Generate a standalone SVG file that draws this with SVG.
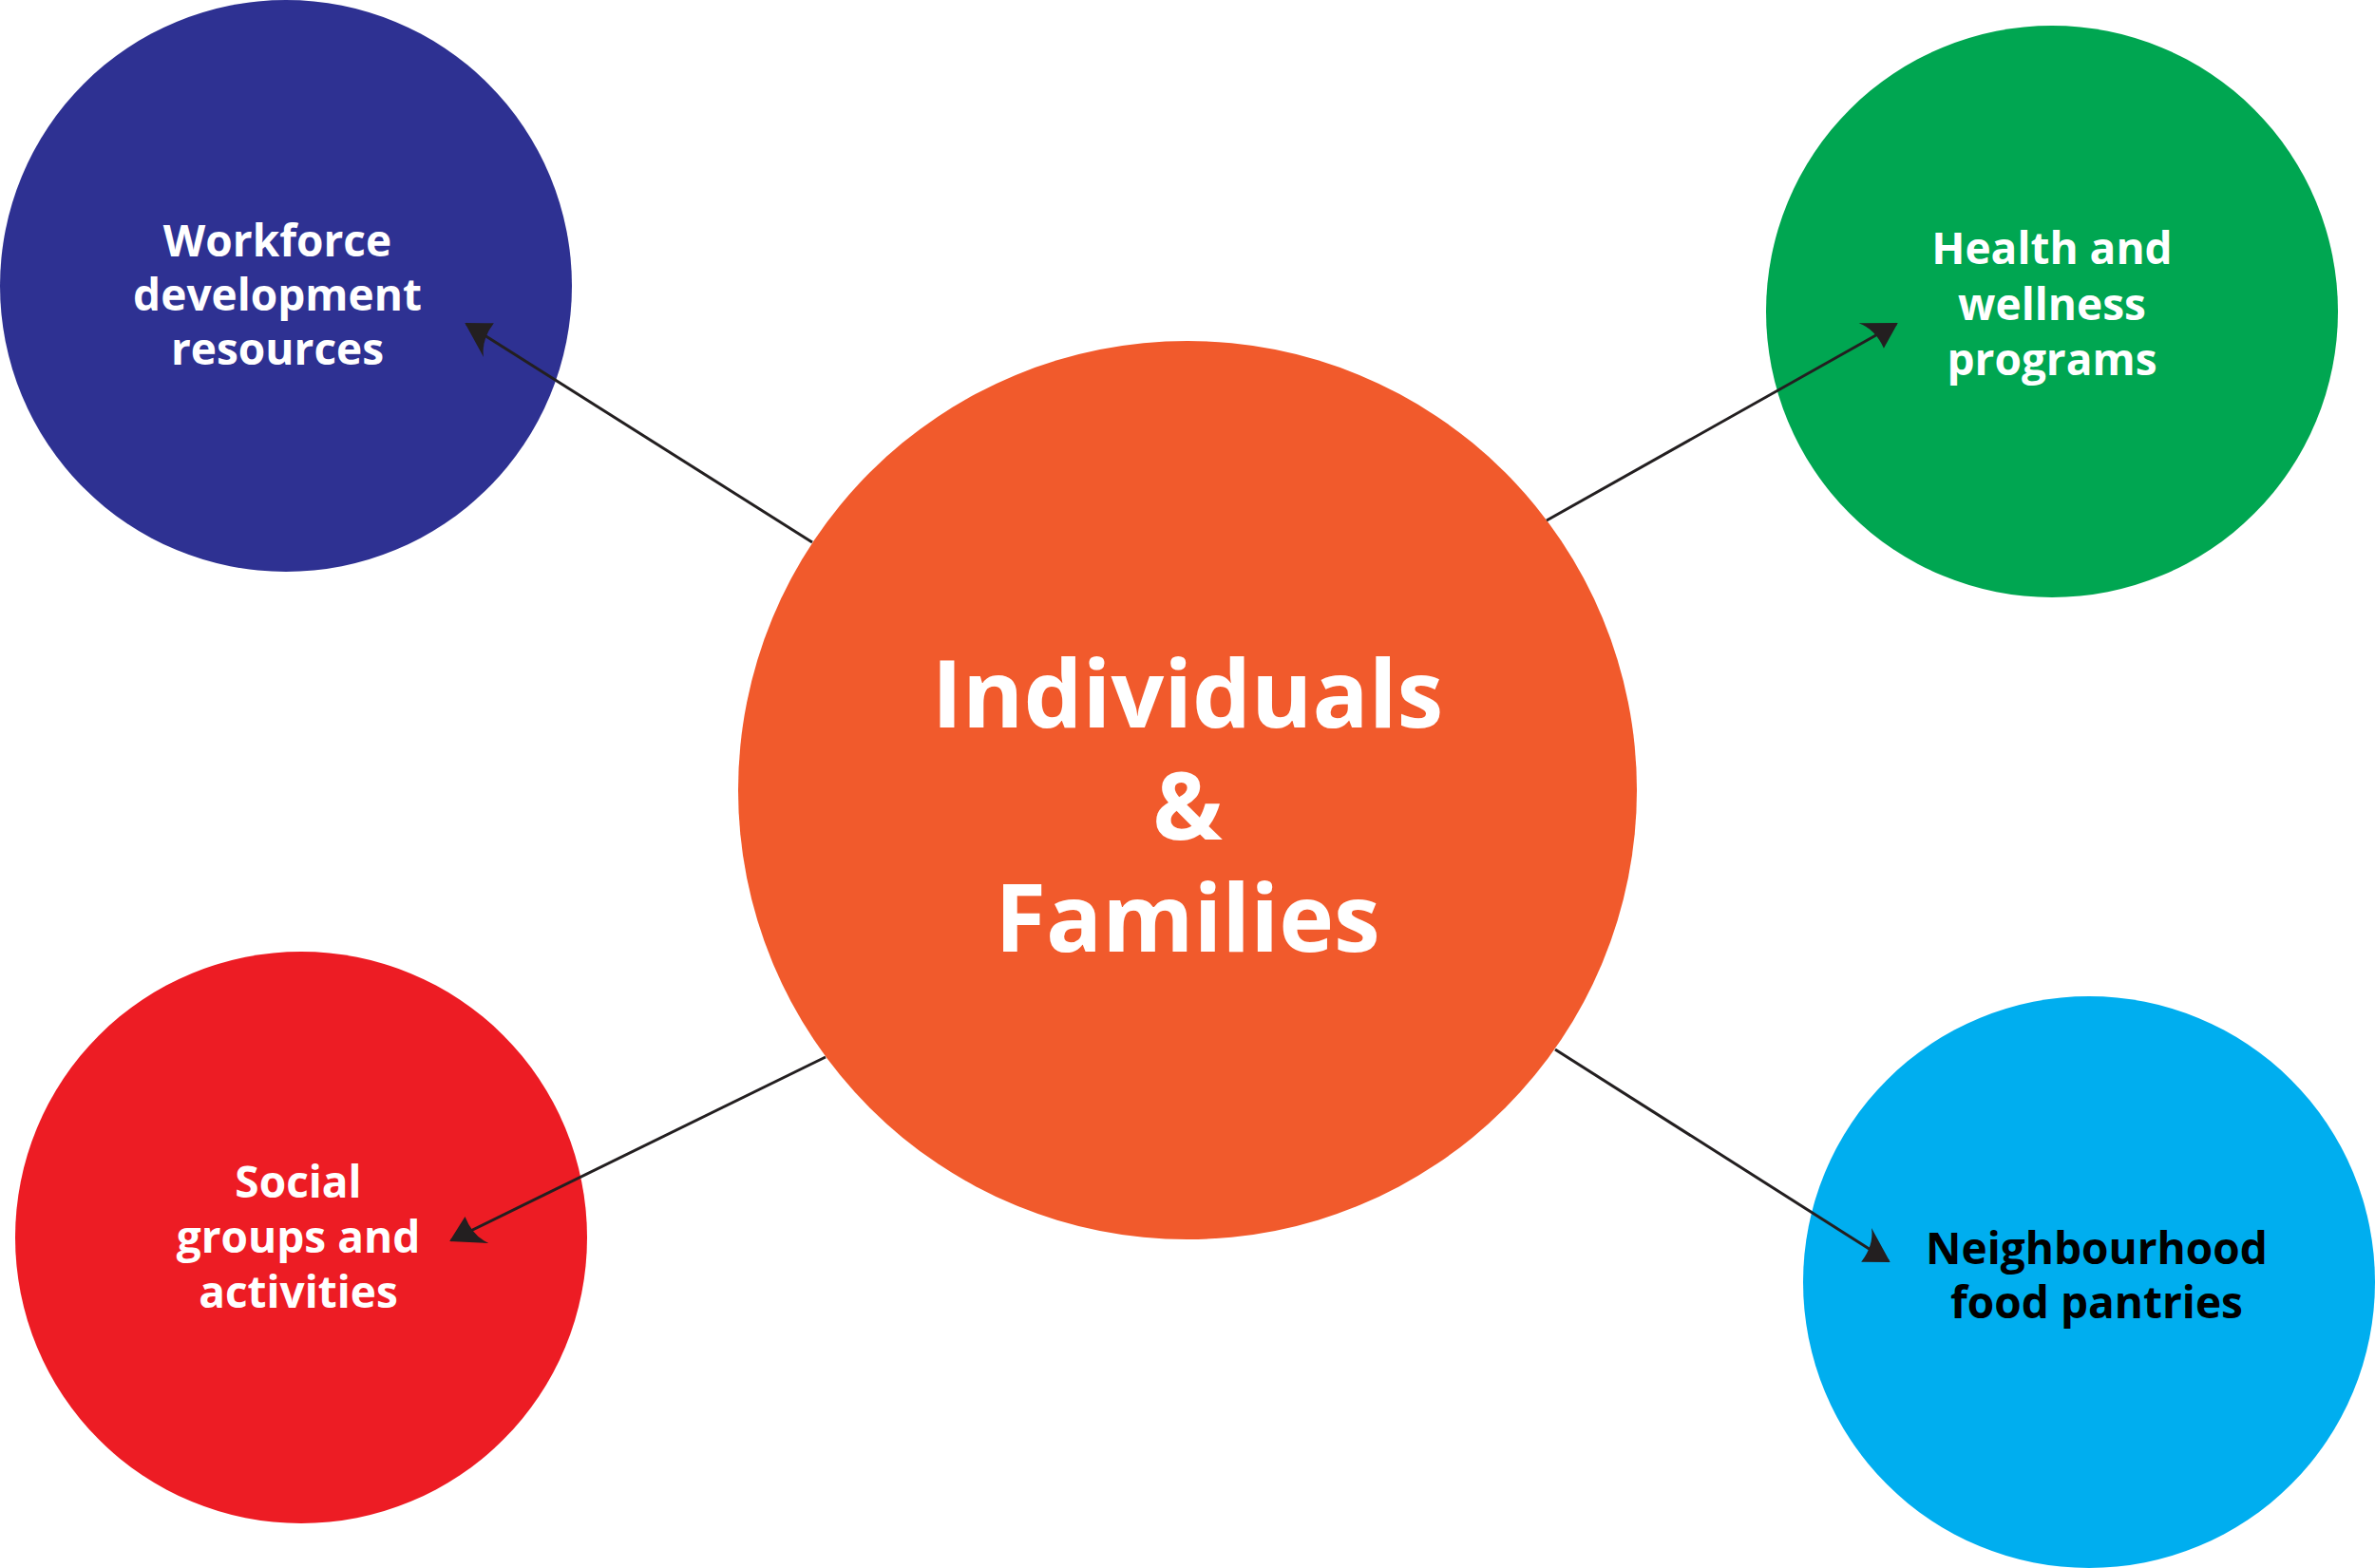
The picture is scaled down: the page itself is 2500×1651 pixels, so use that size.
<svg xmlns="http://www.w3.org/2000/svg" width="2500" height="1651" viewBox="0 0 2500 1651">
<style>
.lbl{font-family:"Open Sans","Liberation Sans",sans-serif;font-weight:700;font-size:46px;fill:#fff;text-anchor:middle}
.big{font-family:"Open Sans","Liberation Sans",sans-serif;font-weight:700;font-size:98px;fill:#fff;text-anchor:middle}
.con{stroke:#231f20;stroke-width:3;fill:none;marker-end:url(#ah)}
</style>
<defs>
<marker id="ah" markerWidth="40" markerHeight="40" refX="0" refY="0" markerUnits="userSpaceOnUse" orient="auto" style="overflow:visible">
<path d="M2,0 L-34,-20 Q-22,-6 -24,16 Z" fill="#231f20"/>
</marker>
</defs>
<rect width="2500" height="1651" fill="#fff"/>
<g id="workforce"><circle cx="301" cy="301" r="301" fill="#2e3192"/>
<text class="lbl" x="292" y="270">Workforce</text><text class="lbl" x="292" y="327">development</text><text class="lbl" x="292" y="384">resources</text></g>
<g id="health"><circle cx="2160" cy="328" r="301" fill="#00a651"/>
<text class="lbl" x="2160" y="278">Health and</text><text class="lbl" x="2160" y="337">wellness</text><text class="lbl" x="2160" y="395">programs</text></g>
<g id="social"><circle cx="317" cy="1303" r="301" fill="#ed1c24"/>
<text class="lbl" x="314" y="1261">Social</text><text class="lbl" x="314" y="1319">groups and</text><text class="lbl" x="314" y="1377">activities</text></g>
<g id="food"><circle cx="2199" cy="1350" r="301" fill="#00aeef"/>
<text class="lbl" x="2207" y="1331" style="fill:#000">Neighbourhood</text><text class="lbl" x="2207" y="1388" style="fill:#000">food pantries</text></g>
<g id="center"><circle cx="1250" cy="832" r="473" fill="#f15a2c"/>
<text class="big" x="1250" y="766">Individuals</text><text class="big" x="1250" y="884">&amp;</text><text class="big" x="1250" y="1002">Families</text></g>
<g id="connectors">
<line class="con" x1="855" y1="571" x2="491" y2="341"/>
<line class="con" x1="1628" y1="548" x2="1996" y2="341"/>
<line class="con" x1="869" y1="1113" x2="475" y2="1306"/>
<line class="con" x1="1637" y1="1105" x2="1988" y2="1328"/>
</g>
</svg>
